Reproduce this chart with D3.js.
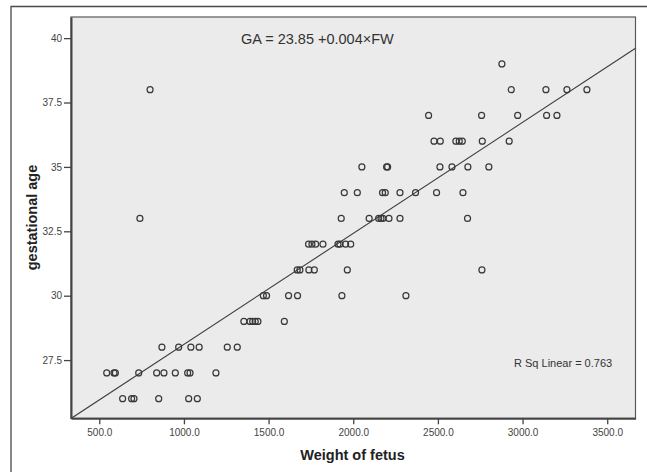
<!DOCTYPE html>
<html>
<head>
<meta charset="utf-8">
<script src="https://cdn.jsdelivr.net/npm/d3@7"></script>
<style>
  body { margin: 0; background: #fff; }
  svg { display: block; font-family: "Liberation Sans", Arial, sans-serif; }
</style>
</head>
<body>
<div id="chart"></div>
<script>
// fetal weight (g) for each gestational age (weeks)
var gaWeeks = [26, 27, 28, 29, 30, 31, 32, 33, 34, 35, 36, 37, 38, 39]
var weightsByGA = [
    [638, 691, 705, 851, 1028, 1079],
    [544, 587, 595, 733, 839, 882, 949, 1022, 1036, 1189],
    [870, 969, 1041, 1090, 1256, 1315],
    [1354, 1390, 1406, 1421, 1437, 1593],
    [1469, 1488, 1618, 1671, 1933, 2311],
    [1669, 1685, 1738, 1770, 1965, 2760],
    [1736, 1756, 1778, 1821, 1910, 1921, 1955, 1985],
    [740, 1929, 2094, 2150, 2164, 2175, 2211, 2276, 2675],
    [1947, 2024, 2173, 2189, 2276, 2368, 2492, 2648],
    [2051, 2197, 2203, 2512, 2583, 2677, 2801],
    [2477, 2514, 2606, 2626, 2644, 2762, 2921],
    [2445, 2758, 2971, 3142, 3203],
    [800, 2933, 3138, 3262, 3380],
    [2878]
]
var xTicks = [500, 1000, 1500, 2000, 2500, 3000, 3500]
var yTicks = [27.5, 30, 32.5, 35, 37.5, 40]
var fitIntercept = 23.80, fitSlope = 0.00431
var equationLabel = "GA = 23.85 +0.004×FW"
var rsqLabel = "R Sq Linear = 0.763"

var width = 647, height = 472
const plot = {left: 71, top: 17, right: 635.5, bottom: 418.3}

var points = []
gaWeeks.forEach((ga, i) => weightsByGA[i].forEach(w => points.push({fw: w, ga: ga})))

var x = d3.scaleLinear().domain([333, 3667]).range([plot.left, plot.right])
var y = d3.scaleLinear().domain([25.24, 40.82]).range([plot.bottom, plot.top])

var svg = d3.select("#chart").append("svg").attr("width", width).attr("height", height)

// outer frame (runs off the right and bottom edges)
svg.append("path").attr("d", "M11,480 V6.5 H660").attr("fill", "none").attr("stroke", "#4a4a4a").attr("stroke-width", 1.3)

svg.append("clipPath").attr("id", "clip").append("rect")
    .attr("x", plot.left).attr("y", plot.top).attr("width", plot.right - plot.left).attr("height", plot.bottom - plot.top)

svg.append("rect").attr("x", plot.left).attr("y", plot.top).attr("width", plot.right - plot.left).attr("height", plot.bottom - plot.top)
    .attr("fill", "#ebebeb").attr("stroke", "#5a5a5a").attr("stroke-width", 1.2)

// fit line
var x0 = x.domain()[0], x1 = x.domain()[1]
svg.append("line").attr("clip-path", "url(#clip)")
    .attr("x1", x(x0)).attr("y1", y(fitIntercept + fitSlope * x0))
    .attr("x2", x(x1)).attr("y2", y(fitIntercept + fitSlope * x1))
    .attr("stroke", "#3c3c3c").attr("stroke-width", 1.1)

svg.append("g").selectAll("circle").data(points).enter().append("circle")
    .attr("cx", d => x(d.fw)).attr("cy", d => y(d.ga)).attr("r", 3)
    .attr("fill", "none").attr("stroke", "#383838").attr("stroke-width", 1.2)

// axes
var xAxis = svg.append("g").attr("transform", "translate(0," + plot.bottom + ")")
    .call(d3.axisBottom(x).tickValues(xTicks).tickFormat(d3.format(".1f")).tickSize(6).tickSizeOuter(0))
var yAxis = svg.append("g").attr("transform", "translate(" + plot.left + ",0)")
    .call(d3.axisLeft(y).tickValues(yTicks).tickFormat(d => d).tickSize(7).tickSizeOuter(0))

;[xAxis, yAxis].forEach(a => {
    a.select(".domain").attr("stroke", "#444").attr("stroke-width", 2)
    a.selectAll(".tick line").attr("stroke", "#444").attr("stroke-width", 1.3)
    a.selectAll(".tick text").attr("fill", "#444").style("font-size", "10px").style("font-family", "Liberation Sans, Arial, sans-serif")
})
xAxis.selectAll(".tick text").attr("dy", "0.95em").attr("y", 8)
yAxis.selectAll(".tick text").attr("x", -9)

// texts
svg.append("text").attr("x", 241).attr("y", 44).text(equationLabel)
    .attr("fill", "#333").style("font-size", "14.5px")
svg.append("text").attr("x", 514).attr("y", 366.5).text(rsqLabel)
    .attr("fill", "#333").style("font-size", "11px")

svg.append("text").attr("x", 352.5).attr("y", 460).attr("text-anchor", "middle").text("Weight of fetus")
    .attr("fill", "#222").style("font-size", "14.5px").style("font-weight", "bold")
svg.append("text").attr("transform", "translate(37,217.5) rotate(-90)").attr("text-anchor", "middle").text("gestational age")
    .attr("fill", "#222").style("font-size", "14.5px").style("font-weight", "bold")
</script>
</body>
</html>
